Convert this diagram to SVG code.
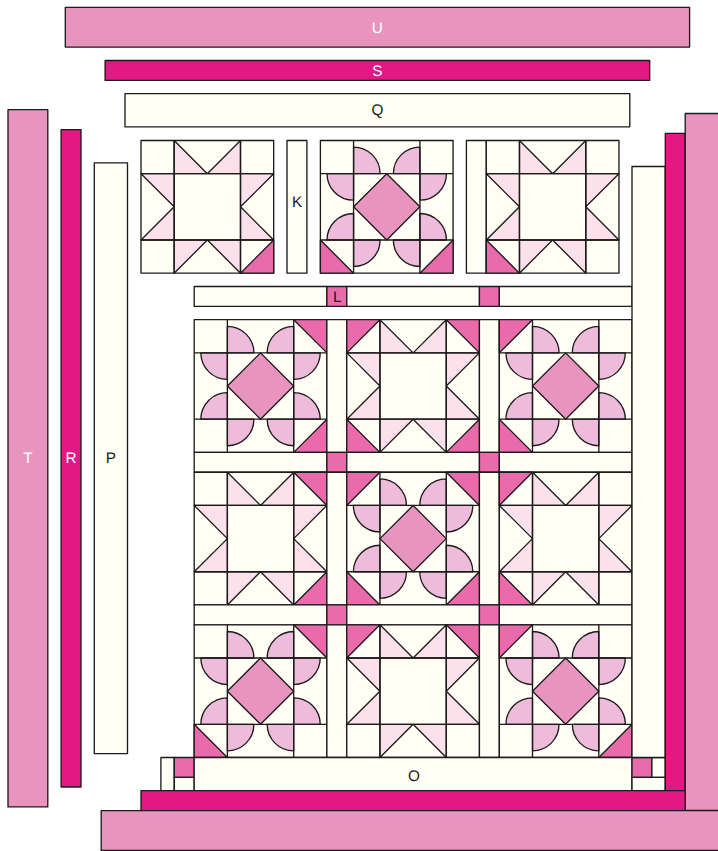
<svg xmlns="http://www.w3.org/2000/svg" width="718" height="851" viewBox="0 0 718 851">
<style>
rect,path{stroke:#1c1a1b;stroke-width:1.33;stroke-linejoin:round}
.c{fill:#fffff5}.p{fill:#e993bf}.m{fill:#e21885}.t{fill:#e96bac}.q{fill:#efbbdb}.l{fill:#fce1eb}
text{font-family:"Liberation Sans",Arial,sans-serif;font-size:15.3px;text-anchor:middle;fill:#1c1a1b;text-rendering:geometricPrecision}
text.w{fill:#fff}
</style>
<defs>
<g id="star">
<rect class="c" width="132.67" height="132.67"/>
<path class="l" d="M33.17 0V33.17H66.33ZM99.5 0V33.17H66.33ZM0 33.17H33.17V66.33ZM0 99.5H33.17V66.33ZM132.67 33.17H99.5V66.33ZM132.67 99.5H99.5V66.33ZM33.17 132.67V99.5H66.33ZM99.5 132.67V99.5H66.33Z"/>
<path fill="none" d="M33.17 0V132.67M99.5 0V132.67M0 33.17H132.67M0 99.5H132.67"/>
</g>
<g id="flower">
<rect class="c" width="132.67" height="132.67"/>
<path class="q" d="M33.17 33.17V6.63A26.53 26.53 0 0 1 59.7 33.17ZM33.17 33.17H6.63A26.53 26.53 0 0 0 33.17 59.7ZM99.5 33.17V6.63A26.53 26.53 0 0 0 72.97 33.17ZM99.5 33.17H126.03A26.53 26.53 0 0 1 99.5 59.7ZM33.17 99.5H6.63A26.53 26.53 0 0 1 33.17 72.97ZM33.17 99.5V126.03A26.53 26.53 0 0 0 59.7 99.5ZM99.5 99.5H126.03A26.53 26.53 0 0 0 99.5 72.97ZM99.5 99.5V126.03A26.53 26.53 0 0 1 72.97 99.5Z"/>
<path class="p" d="M66.33 33.17L99.5 66.33L66.33 99.5L33.17 66.33Z"/>
<path fill="none" d="M33.17 0V132.67M99.5 0V132.67M0 33.17H132.67M0 99.5H132.67"/>
</g>
<path id="tl" class="t" d="M0 0H33.17L0 33.17Z"/>
<path id="tr" class="t" d="M132.67 0H99.5L132.67 33.17Z"/>
<path id="bl" class="t" d="M0 132.67V99.5L33.17 132.67Z"/>
<path id="br" class="t" d="M132.67 132.67V99.5L99.5 132.67Z"/>
</defs>

<g id="border-U"><rect class="p" x="65.3" y="7.3" width="624.3" height="39.8"/><text class="w" x="377.4" y="32.7">U</text></g>
<g id="border-S"><rect class="m" x="105.1" y="60.5" width="544.6" height="19.9"/><text class="w" x="377.4" y="76">S</text></g>
<g id="border-Q"><rect class="c" x="125" y="93.6" width="504.8" height="33.2"/><text x="377.4" y="115.3">Q</text></g>
<g id="border-T"><rect class="p" x="8" y="109.7" width="39.8" height="697.2"/><text class="w" x="27.9" y="462.8">T</text></g>
<g id="border-R"><rect class="m" x="61.1" y="129.6" width="19.9" height="657.4"/><text class="w" x="71" y="462.8">R</text></g>
<g id="border-P"><rect class="c" x="94.3" y="162.8" width="33.2" height="590.9"/><text x="110.9" y="462.8">P</text></g>

<g id="top-block-1"><use href="#star" x="141" y="140.5"/><use href="#br" x="141" y="140.5"/></g>
<g id="sash-K"><rect class="c" x="287" y="140.5" width="19.9" height="132.67"/><text x="297" y="206.7">K</text></g>
<g id="top-block-2"><use href="#flower" x="320.4" y="140.5"/><use href="#bl" x="320.4" y="140.5"/><use href="#br" x="320.4" y="140.5"/></g>
<g id="top-sash"><rect class="c" x="466.4" y="140.5" width="19.9" height="132.67"/></g>
<g id="top-block-3"><use href="#star" x="486.3" y="140.5"/><use href="#bl" x="486.3" y="140.5"/></g>

<g id="strip-L">
<rect class="c" x="194.2" y="286.5" width="132.67" height="19.9"/>
<rect class="t" x="326.87" y="286.5" width="19.9" height="19.9"/><text x="337.3" y="301.7">L</text>
<rect class="c" x="346.77" y="286.5" width="132.67" height="19.9"/>
<rect class="t" x="479.43" y="286.5" width="19.9" height="19.9"/>
<rect class="c" x="499.33" y="286.5" width="132.67" height="19.9"/>
</g>

<g id="row-1">
<use href="#flower" x="194.2" y="319.7"/><use href="#tr" x="194.2" y="319.7"/><use href="#br" x="194.2" y="319.7"/>
<rect class="c" x="326.87" y="319.7" width="19.9" height="132.67"/>
<use href="#star" x="346.77" y="319.7"/><use href="#tl" x="346.77" y="319.7"/><use href="#tr" x="346.77" y="319.7"/><use href="#bl" x="346.77" y="319.7"/><use href="#br" x="346.77" y="319.7"/>
<rect class="c" x="479.43" y="319.7" width="19.9" height="132.67"/>
<use href="#flower" x="499.33" y="319.7"/><use href="#tl" x="499.33" y="319.7"/><use href="#bl" x="499.33" y="319.7"/>
</g>
<g id="sash-1">
<rect class="c" x="194.2" y="452.37" width="132.67" height="19.9"/>
<rect class="t" x="326.87" y="452.37" width="19.9" height="19.9"/>
<rect class="c" x="346.77" y="452.37" width="132.67" height="19.9"/>
<rect class="t" x="479.43" y="452.37" width="19.9" height="19.9"/>
<rect class="c" x="499.33" y="452.37" width="132.67" height="19.9"/>
</g>
<g id="row-2">
<use href="#star" x="194.2" y="472.27"/><use href="#tr" x="194.2" y="472.27"/><use href="#br" x="194.2" y="472.27"/>
<rect class="c" x="326.87" y="472.27" width="19.9" height="132.67"/>
<use href="#flower" x="346.77" y="472.27"/><use href="#tl" x="346.77" y="472.27"/><use href="#tr" x="346.77" y="472.27"/><use href="#bl" x="346.77" y="472.27"/><use href="#br" x="346.77" y="472.27"/>
<rect class="c" x="479.43" y="472.27" width="19.9" height="132.67"/>
<use href="#star" x="499.33" y="472.27"/><use href="#tl" x="499.33" y="472.27"/><use href="#bl" x="499.33" y="472.27"/>
</g>
<g id="sash-2">
<rect class="c" x="194.2" y="604.94" width="132.67" height="19.9"/>
<rect class="t" x="326.87" y="604.94" width="19.9" height="19.9"/>
<rect class="c" x="346.77" y="604.94" width="132.67" height="19.9"/>
<rect class="t" x="479.43" y="604.94" width="19.9" height="19.9"/>
<rect class="c" x="499.33" y="604.94" width="132.67" height="19.9"/>
</g>
<g id="row-3">
<use href="#flower" x="194.2" y="624.84"/><use href="#tr" x="194.2" y="624.84"/><use href="#bl" x="194.2" y="624.84"/>
<rect class="c" x="326.87" y="624.84" width="19.9" height="132.67"/>
<use href="#star" x="346.77" y="624.84"/><use href="#tl" x="346.77" y="624.84"/><use href="#tr" x="346.77" y="624.84"/>
<rect class="c" x="479.43" y="624.84" width="19.9" height="132.67"/>
<use href="#flower" x="499.33" y="624.84"/><use href="#tl" x="499.33" y="624.84"/><use href="#br" x="499.33" y="624.84"/>
</g>

<g id="corner-left">
<rect class="c" x="160.9" y="757.5" width="13.3" height="33.2"/>
<rect class="t" x="174.3" y="757.5" width="19.9" height="19.9"/>
<rect class="c" x="174.3" y="777.4" width="19.9" height="13.3"/>
</g>
<g id="border-O"><rect class="c" x="194.2" y="757.5" width="437.8" height="33.2"/><text x="414" y="781">O</text></g>
<g id="corner-right">
<rect class="t" x="632" y="757.5" width="19.9" height="19.9"/>
<rect class="c" x="651.9" y="757.5" width="13.3" height="19.9"/>
<rect class="c" x="632" y="777.4" width="33.2" height="13.3"/>
</g>
<g id="border-right-cream"><rect class="c" x="632" y="166.5" width="33.2" height="591"/></g>
<g id="border-right-magenta"><rect class="m" x="665.3" y="133.4" width="19.9" height="657.3"/></g>
<g id="border-right-pink"><rect class="p" x="685.2" y="113.5" width="39.8" height="697"/></g>
<g id="border-bottom-magenta"><rect class="m" x="141" y="790.7" width="544.2" height="19.9"/></g>
<g id="border-bottom-pink"><rect class="p" x="101.2" y="810.6" width="630" height="39.8"/></g>
</svg>
